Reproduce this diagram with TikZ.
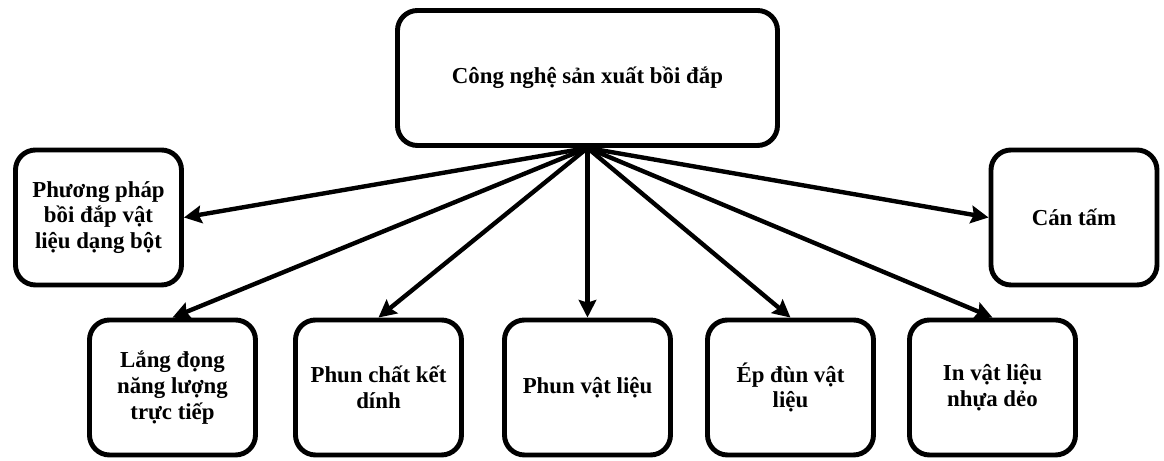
\documentclass[tikz,border=0pt]{standalone}
\usepackage{fontspec}
\setmainfont{Liberation Serif}
\usetikzlibrary{positioning, arrows.meta}

\begin{document}
\begin{tikzpicture}[node distance=4.1cm, on grid,
        block/.style={draw, line width=2.8pt, rounded corners=0.4cm,
            minimum width=3.32cm, minimum height=2.7cm, align=center,
            font=\fontsize{13}{14.6}\selectfont\bfseries},
        arr/.style={-{Stealth[length=10pt, width=10pt, inset=1.5pt]}, line width=2.5pt}]
        \useasboundingbox (-11.75,1.56) rectangle (11.53,-7.66);

        \node[block, minimum width=7.6cm] (am) at (0,0) {Công nghệ sản xuất bồi đắp};
        \node[block] (bot) [below left=2.79cm and 9.78cm of am] {Phương pháp\\bồi đắp vật\\liệu dạng bột};
        \node[block] (cantam) [below right=2.79cm and 9.73cm of am] {Cán tấm};

        \node[block] (phunvl) [below=6.19cm of am] {Phun vật liệu};
        \node[block] (kdinh) [left=4.18cm of phunvl] {Phun chất kết\\dính};
        \node[block] (ldnl) [left=4.12cm of kdinh] {Lắng đọng\\năng lượng\\trực tiếp};
        \node[block] (epdun) [right=4.06cm of phunvl] {Ép đùn vật\\liệu};
        \node[block] (nhua) [right=4.04cm of epdun] {In vật liệu\\nhựa dẻo};

        \path[arr]
        (am.south) edge (bot.east)
        (am.south) edge (cantam.west)

        (am.south) edge (ldnl.north)
        (am.south) edge (kdinh.north)
        (am.south) edge (phunvl.north)
        (am.south) edge (epdun.north)
        (am.south) edge (nhua.north);

    \end{tikzpicture}
\end{document}
